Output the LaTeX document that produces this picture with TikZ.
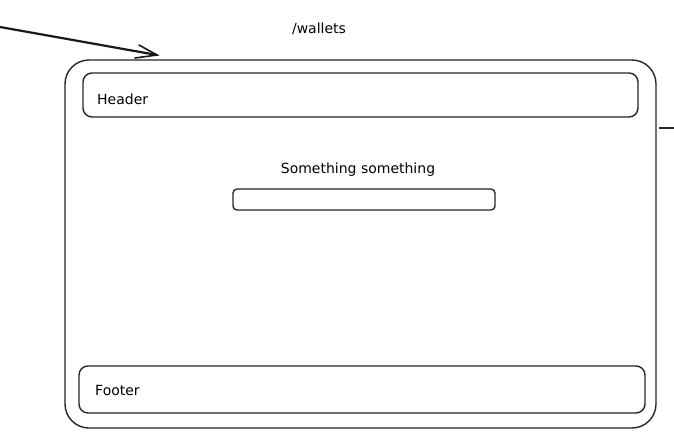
\documentclass[tikz,border=0pt]{standalone}
\usepackage{fontspec}
\setmainfont{DejaVu Sans}
\begin{document}
\begin{tikzpicture}[x=1pt,y=-1pt,
  box/.style={draw=black!85,line width=1.4pt},
  lbl/.style={font=\fontsize{14}{16}\selectfont,inner sep=0pt}]
\useasboundingbox (0,0) rectangle (674,445);
\fill[white] (0,0) rectangle (674,445);
% outer frame
\draw[box,rounded corners=24pt] (65,60) rectangle (656,428);
% header
\draw[box,rounded corners=9pt] (83,73) rectangle (638,117);
\node[lbl,anchor=west] (header) at (97,99) {Header};
% footer
\draw[box,rounded corners=9pt] (79,366) rectangle (645,413);
\node[lbl,anchor=west] (footer) at (95,390) {Footer};
% title
\node[lbl] (title) at (319,29) {/wallets};
% text + input
\node[lbl] (sth) at (358,170) {Something something};
\draw[box,rounded corners=4pt] (233,189) rectangle (495,210);
% arrow
\coordinate (a0) at (0,27);
\coordinate (a1) at (157,55);
\draw[line width=2.2pt,black!90,line cap=round] (a0) -- (a1);
\draw[line width=1.6pt,black!90,line cap=round] (139,45) -- (a1) -- (135,58);
% small stub
\coordinate (s0) at (659,128);
\coordinate (s1) at (674,128);
\draw[line width=1.2pt,black!85] (s0) -- (s1);
\end{tikzpicture}
\end{document}
